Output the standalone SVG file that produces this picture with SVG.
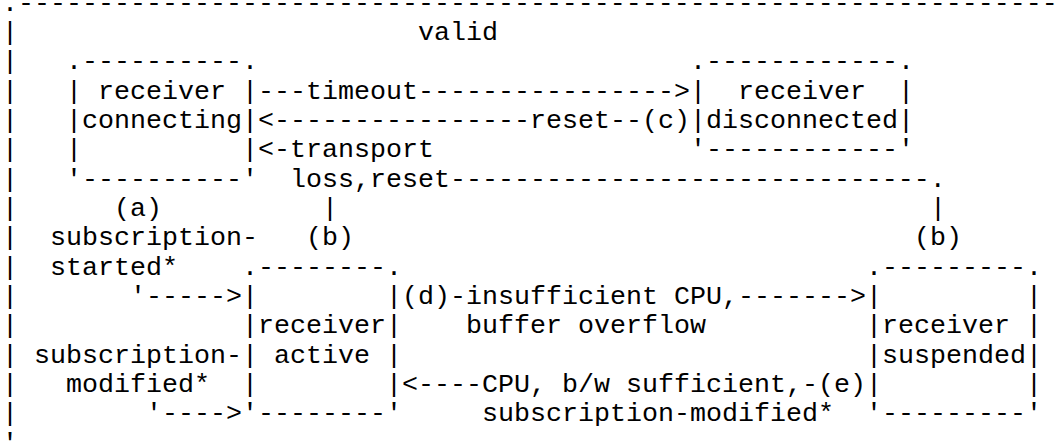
<svg xmlns="http://www.w3.org/2000/svg" width="1059" height="443" viewBox="0 0 1059 443" xml:space="preserve">
<style>
text { font-family: "Liberation Mono", "Courier New", monospace; font-size: 26.667px; fill: #000; white-space: pre; }
</style>
<rect x="0" y="0" width="1059" height="443" fill="#fff"/>
<g id="valid">
<text x="2" y="10.67">.-----------------------------------------------------------------</text>
<text x="2" y="40">|</text><text x="418" y="40">valid</text>
<text x="2" y="69.33">|</text>
<text x="2" y="98.67">|</text>
<text x="2" y="128">|</text>
<text x="2" y="157.33">|</text>
<text x="2" y="186.67">|</text>
<text x="2" y="216">|</text>
<text x="2" y="245.33">|</text>
<text x="2" y="274.67">|</text>
<text x="2" y="304">|</text>
<text x="2" y="333.33">|</text>
<text x="2" y="362.67">|</text>
<text x="2" y="392">|</text>
<text x="2" y="421.33">|</text>
<text x="2" y="450.67">'-----------------------------------------------------------------</text>
</g>
<g id="receiver-connecting">
<text x="66" y="69.33">.----------.</text>
<text x="66" y="98.67">| receiver |</text>
<text x="66" y="128">|connecting|</text>
<text x="66" y="157.33">|          |</text>
<text x="66" y="186.67">'----------'</text>
</g>
<g id="receiver-disconnected">
<text x="690" y="69.33">.------------.</text>
<text x="690" y="98.67">|  receiver  |</text>
<text x="690" y="128">|disconnected|</text>
<text x="690" y="157.33">'------------'</text>
</g>
<g id="receiver-active">
<text x="242" y="274.67">.--------.</text>
<text x="242" y="304">|        |</text>
<text x="242" y="333.33">|receiver|</text>
<text x="242" y="362.67">| active |</text>
<text x="242" y="392">|        |</text>
<text x="242" y="421.33">'--------'</text>
</g>
<g id="receiver-suspended">
<text x="866" y="274.67">.---------.</text>
<text x="866" y="304">|         |</text>
<text x="866" y="333.33">|receiver |</text>
<text x="866" y="362.67">|suspended|</text>
<text x="866" y="392">|         |</text>
<text x="866" y="421.33">'---------'</text>
</g>
<g id="connectors">
<text x="258" y="98.67">---timeout----------------&gt;</text>
<text x="258" y="128">&lt;----------------reset--(c)</text>
<text x="258" y="157.33">&lt;-transport</text>
<text x="290" y="186.67">loss,reset------------------------------.</text>
<text x="322" y="216">|</text>
<text x="930" y="216">|</text>
<text x="306" y="245.33">(b)</text>
<text x="914" y="245.33">(b)</text>
<text x="114" y="216">(a)</text>
<text x="50" y="245.33">subscription-</text>
<text x="50" y="274.67">started*</text>
<text x="130" y="304">'-----&gt;</text>
<text x="34" y="362.67">subscription-</text>
<text x="66" y="392">modified*</text>
<text x="146" y="421.33">'----&gt;</text>
<text x="402" y="304">(d)-insufficient CPU,-------&gt;</text>
<text x="466" y="333.33">buffer overflow</text>
<text x="402" y="392">&lt;----CPU, b/w sufficient,-(e)</text>
<text x="482" y="421.33">subscription-modified*</text>
</g>
</svg>
